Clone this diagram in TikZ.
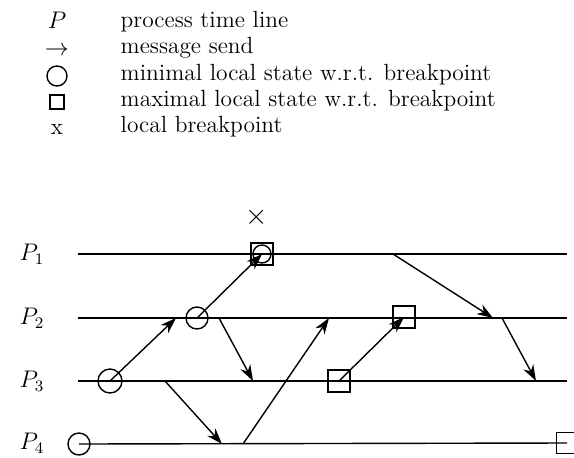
\documentclass[tikz,border=0pt]{standalone}
\usetikzlibrary{arrows.meta}
\begin{document}
\begin{tikzpicture}[x=0.5pt, y=-0.5pt, >={Stealth[length=8pt, width=5.5pt, inset=2.5pt]},
    line width=0.7pt, font=\fontsize{11.7}{14}\selectfont,
    minst/.style={draw, circle, minimum size=11pt, inner sep=0pt},
    maxst/.style={draw, rectangle, minimum size=11pt, inner sep=0pt},
    legkey/.style={inner sep=0pt, text height=1.5ex, text depth=0pt},
    legtext/.style={right, inner sep=1pt}]
    \useasboundingbox (0,0) rectangle (574,457);

    % legend
    \node[legkey] (kP) at (57,22) {$P$};
    \node[legtext] (tP) at (118,22) {process time line};
    \node[legkey] (kA) at (57,49) {$\rightarrow$};
    \node[legtext] (tA) at (118,48) {message send};
    \node[minst, minimum size=10pt] (kC) at (57,76) {};
    \node[legtext] (tC) at (118,75) {minimal local state w.r.t. breakpoint};
    \node[maxst, minimum size=7pt] (kS) at (57,102) {};
    \node[legtext] (tS) at (118,101) {maximal local state w.r.t. breakpoint};
    \node[legkey] (kX) at (57,128) {x};
    \node[legtext] (tX) at (118,127) {local breakpoint};

    % process time lines
    \node (P1) at (32,254) {$P_1$};
    \node (P2) at (32,318) {$P_2$};
    \node (P3) at (32,381) {$P_3$};
    \node (P4) at (32,443) {$P_4$};
    \coordinate (p1s) at (78,254);  \coordinate (p1e) at (567,254);
    \coordinate (p2s) at (78,318);  \coordinate (p2e) at (567,318);
    \coordinate (p3s) at (78,381);  \coordinate (p3e) at (567,381);
    \draw (p1s) -- (p1e);
    \draw (p2s) -- (p2e);
    \draw (p3s) -- (p3e);

    % local states
    \node[maxst] (s1) at (262,254) {};
    \node[minst, minimum size=9pt] (c1) at (262,254) {};
    \node[minst] (c2) at (197,318) {};
    \node[minst, minimum size=12pt] (c3) at (110,381) {};
    \node[minst] (c4) at (79,444) {};
    \node[maxst] (s2) at (404,317) {};
    \node[maxst] (s3) at (339,381) {};
    \node[maxst, minimum size=10.5pt] (s4) at (567,443) {};
    \draw (c4.center) -- (s4.center);

    % breakpoint
    \node[font=\fontsize{14}{14}\selectfont] (bp) at (257,217) {$\times$};

    % message events
    \coordinate (a2) at (176,318);
    \coordinate (b2) at (219,318);  \coordinate (b3) at (253,381);
    \coordinate (d3) at (165,381);  \coordinate (d4) at (222,444);
    \coordinate (f4) at (243,444);  \coordinate (f2) at (329,318);
    \coordinate (g1) at (393,254);  \coordinate (g2) at (493,318);
    \coordinate (h2) at (502,318);  \coordinate (h3) at (536,381);

    % messages
    \draw[->] (c3.center) -- (a2);
    \draw[->] (c2.center) -- (s1.center);
    \draw[->] (b2) -- (b3);
    \draw[->] (d3) -- (d4);
    \draw[->] (f4) -- (f2);
    \draw[->] (s3.center) -- (s2.center);
    \draw[->] (g1) -- (g2);
    \draw[->] (h2) -- (h3);
\end{tikzpicture}
\end{document}
